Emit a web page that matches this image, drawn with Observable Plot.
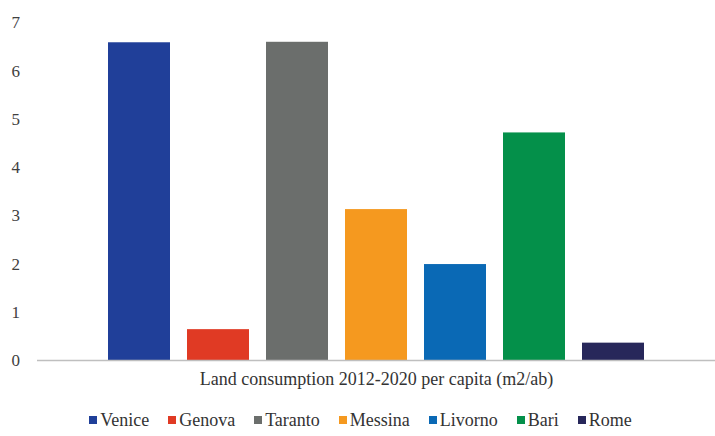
<!DOCTYPE html>
<html><head><meta charset="utf-8">
<script src="https://cdn.jsdelivr.net/npm/d3@7"></script>
<script src="https://cdn.jsdelivr.net/npm/@observablehq/plot@0.6"></script>
<style>
body{margin:0;background:#fff;font-family:"Liberation Serif",serif;}
#chart{width:715px;}
#chart svg, #chart svg text{font-family:"Liberation Serif",serif !important;}
#legend{width:715px;padding-top:15px;padding-left:6px;box-sizing:border-box;}
#legend div, #legend span{font-family:"Liberation Serif",serif !important;}
.lg-swatches{justify-content:center;font-size:18px !important;color:#333;margin:0;min-height:0;padding-left:0;line-height:20px;}
.lg-swatch{margin-right:19px;}
.lg-swatch:last-child{margin-right:0;}
.lg-swatch > svg{margin-right:3px;}
</style></head><body><div id="chart"></div><div id="legend"></div>
<script>
const cities = ["Venice", "Genova", "Taranto", "Messina", "Livorno", "Bari", "Rome"];
const values = [6.59, 0.64, 6.60, 3.13, 1.99, 4.72, 0.36];
const colors = ["#203f99", "#e03a24", "#6b6e6c", "#f5991f", "#0a69b5", "#04904a", "#27275a"];
const yTicks = [0, 1, 2, 3, 4, 5, 6, 7];
const xLabel = "Land consumption 2012-2020 per capita (m2/ab)";

const data = cities.map((c, i) => ({city: c, value: values[i]}));

const plot = Plot.plot({
  width: 715, height: 395,
  marginLeft: 37, marginRight: 0, marginTop: 22.5, marginBottom: 35,
  style: {fontSize: "17px", color: "#404040", background: "#fff"},
  x: {domain: cities, paddingInner: 0.214, paddingOuter: 0.857, axis: null},
  y: {domain: [0, 7]},
  color: {domain: cities, range: colors},
  marks: [
    Plot.axisY(yTicks, {tickSize: 0, tickPadding: 17.5, label: null, fill: "#404040", fontSize: 17}),
    Plot.barY(data, {x: "city", y: "value", fill: "city"}),
    Plot.ruleY([0], {stroke: "#bfbfbf", strokeWidth: 1.5}),
    Plot.text([xLabel], {text: d => d, frameAnchor: "bottom", dy: 24, fontSize: 18, fill: "#333"})
  ]
});
document.getElementById("chart").appendChild(plot);

const legend = Plot.legend({
  color: {type: "ordinal", domain: cities, range: colors},
  legend: "swatches",
  className: "lg",
  swatchSize: 8
});
document.getElementById("legend").appendChild(legend);
</script>
</body></html>
